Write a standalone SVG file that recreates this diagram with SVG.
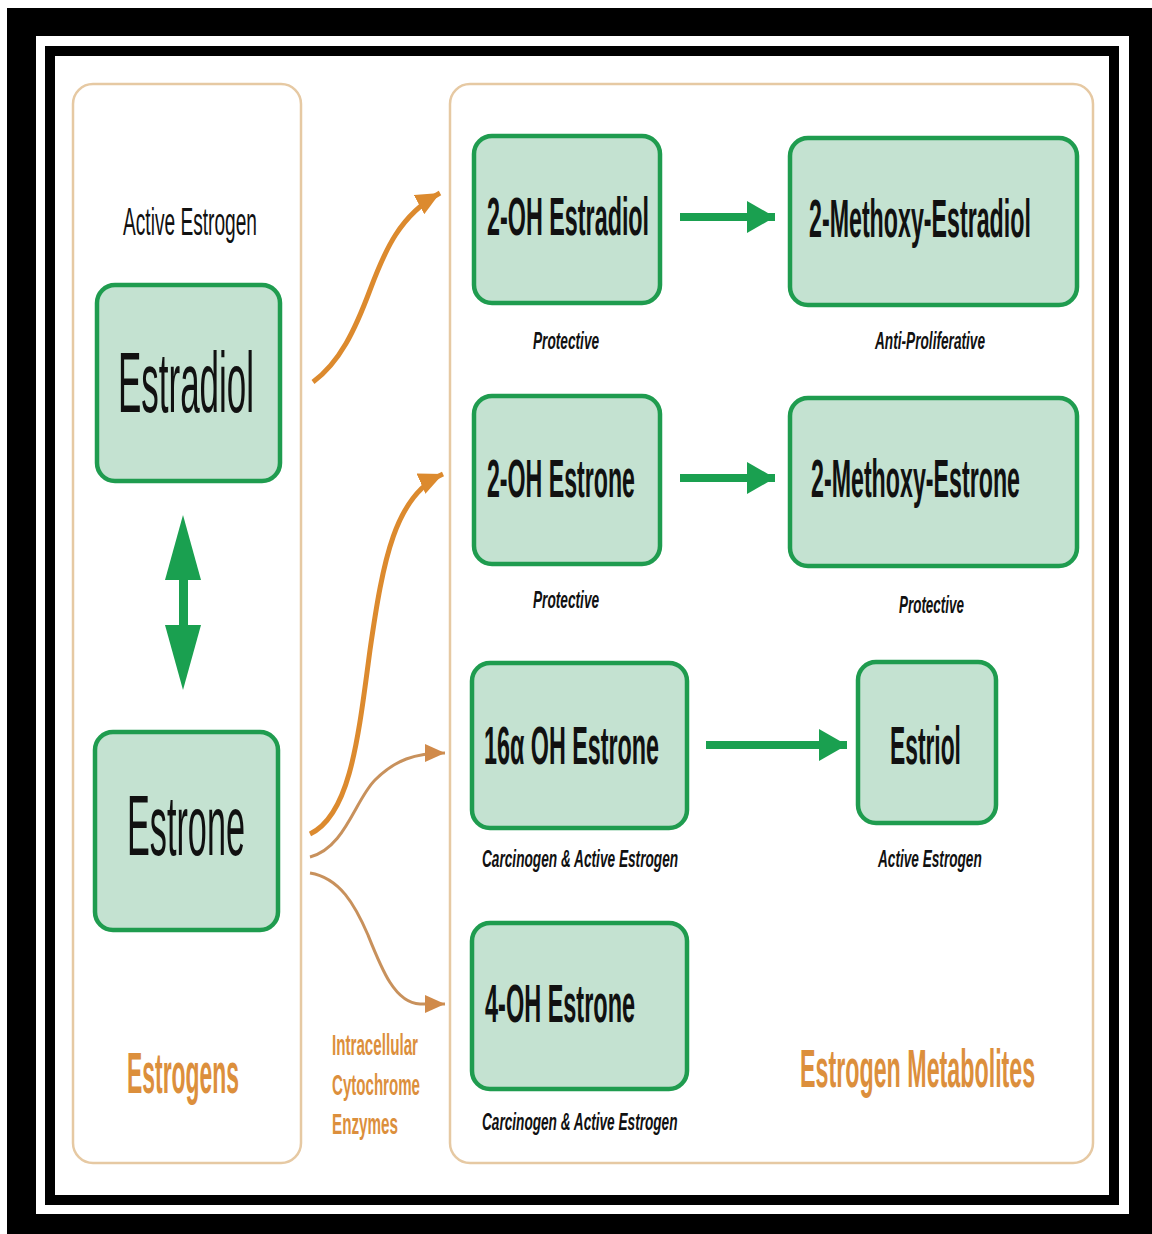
<svg xmlns="http://www.w3.org/2000/svg" width="1152" height="1234" viewBox="0 0 1152 1234">
<style>
  .panel{fill:#ffffff;stroke:#e6c9a3;stroke-width:2.5}
  .box{fill:#c4e2d1;stroke:#1f9c4f;stroke-width:4.5}
  .t{font-family:"Liberation Sans",Arial,sans-serif;fill:#111}
  .big{font-size:86px}
  .bx{font-size:54px;font-weight:bold}
  .lbl{font-size:24px;font-weight:bold;font-style:italic}
  .org{font-family:"Liberation Sans",Arial,sans-serif;fill:#dc8f3c;font-weight:bold}
  .oc{fill:none;stroke:#dc8a2e;stroke-width:5}
  .oc2{fill:none;stroke:#c8915c;stroke-width:3}
  .gl{stroke:#1aa050;stroke-width:8;fill:none}
</style>
<defs>
  <marker id="ahO" markerUnits="userSpaceOnUse" markerWidth="26" markerHeight="22" refX="24" refY="11" orient="auto">
    <path d="M0,0 L24,11 L0,22 Z" fill="#dc8a2e"/>
  </marker>
  <marker id="ahO2" markerUnits="userSpaceOnUse" markerWidth="22" markerHeight="18" refX="20" refY="9" orient="auto">
    <path d="M0,0 L20,9 L0,18 Z" fill="#d08a4a"/>
  </marker>
  <marker id="ahG" markerUnits="userSpaceOnUse" markerWidth="30" markerHeight="32" refX="28" refY="16" orient="auto">
    <path d="M0,0 L28,16 L0,32 Z" fill="#1aa050"/>
  </marker>
</defs>

<!-- frame -->
<rect x="0" y="0" width="1152" height="1234" fill="#ffffff"/>
<rect x="7" y="8" width="1145" height="1226" fill="#000000"/>
<rect x="36" y="36" width="1093" height="1178" fill="#ffffff"/>
<rect x="45" y="46" width="1074" height="1159" fill="#000000"/>
<rect x="55" y="56" width="1054" height="1139" fill="#ffffff"/>

<!-- panels -->
<g id="panel-estrogens">
  <rect class="panel" x="73" y="84" width="228" height="1079" rx="20"/>
  <text class="t" transform="translate(123,235) scale(0.5,1)" font-size="38" textLength="268" lengthAdjust="spacingAndGlyphs">Active Estrogen</text>
  <text class="org" transform="translate(127,1093) scale(0.4,1)" font-size="58" textLength="280" lengthAdjust="spacingAndGlyphs">Estrogens</text>
</g>
<g id="panel-metabolites">
  <rect class="panel" x="450" y="84" width="643" height="1079" rx="20"/>
  <text class="org" transform="translate(800,1087) scale(0.43,1)" font-size="54" textLength="547" lengthAdjust="spacingAndGlyphs">Estrogen Metabolites</text>
</g>
<g id="enzymes-label">
  <text class="org" transform="translate(332,1055) scale(0.5,1)" font-size="30" textLength="172" lengthAdjust="spacingAndGlyphs">Intracellular</text>
  <text class="org" transform="translate(332,1095) scale(0.5,1)" font-size="30" textLength="176" lengthAdjust="spacingAndGlyphs">Cytochrome</text>
  <text class="org" transform="translate(332,1134) scale(0.5,1)" font-size="30" textLength="132" lengthAdjust="spacingAndGlyphs">Enzymes</text>
</g>

<!-- nodes -->
<g id="estradiol">
  <rect class="box" x="97" y="285" width="183" height="196" rx="18"/>
  <text class="t big" transform="translate(118,412) scale(0.4,1)" textLength="340" lengthAdjust="spacingAndGlyphs">Estradiol</text>
</g>
<g id="estrone">
  <rect class="box" x="95" y="732" width="183" height="198" rx="18"/>
  <text class="t big" transform="translate(127,855) scale(0.4,1)" textLength="295" lengthAdjust="spacingAndGlyphs">Estrone</text>
</g>
<g id="oh2-estradiol">
  <rect class="box" x="474" y="136" width="186" height="167" rx="18"/>
  <text class="t bx" transform="translate(487,235) scale(0.43,1)" textLength="377" lengthAdjust="spacingAndGlyphs">2-OH Estradiol</text>
  <text class="t lbl" transform="translate(533,349) scale(0.57,1)" textLength="116" lengthAdjust="spacingAndGlyphs">Protective</text>
</g>
<g id="methoxy-estradiol">
  <rect class="box" x="790" y="138" width="287" height="167" rx="18"/>
  <text class="t bx" transform="translate(809,237) scale(0.43,1)" textLength="516" lengthAdjust="spacingAndGlyphs">2-Methoxy-Estradiol</text>
  <text class="t lbl" transform="translate(875,349) scale(0.57,1)" textLength="193" lengthAdjust="spacingAndGlyphs">Anti-Proliferative</text>
</g>
<g id="oh2-estrone">
  <rect class="box" x="474" y="396" width="186" height="168" rx="18"/>
  <text class="t bx" transform="translate(487,497) scale(0.43,1)" textLength="344" lengthAdjust="spacingAndGlyphs">2-OH Estrone</text>
  <text class="t lbl" transform="translate(533,608) scale(0.57,1)" textLength="116" lengthAdjust="spacingAndGlyphs">Protective</text>
</g>
<g id="methoxy-estrone">
  <rect class="box" x="790" y="398" width="287" height="168" rx="18"/>
  <text class="t bx" transform="translate(811,497) scale(0.43,1)" textLength="486" lengthAdjust="spacingAndGlyphs">2-Methoxy-Estrone</text>
  <text class="t lbl" transform="translate(899,613) scale(0.57,1)" textLength="114" lengthAdjust="spacingAndGlyphs">Protective</text>
</g>
<g id="oh16-estrone">
  <rect class="box" x="472" y="663" width="215" height="165" rx="18"/>
  <text class="t bx" transform="translate(484,764) scale(0.43,1)" textLength="407" lengthAdjust="spacingAndGlyphs">16α OH Estrone</text>
  <text class="t lbl" transform="translate(482,867) scale(0.57,1)" textLength="344" lengthAdjust="spacingAndGlyphs">Carcinogen &amp; Active Estrogen</text>
</g>
<g id="estriol">
  <rect class="box" x="858" y="662" width="138" height="161" rx="18"/>
  <text class="t bx" transform="translate(890,764) scale(0.43,1)" textLength="165" lengthAdjust="spacingAndGlyphs">Estriol</text>
  <text class="t lbl" transform="translate(878,867) scale(0.57,1)" textLength="182" lengthAdjust="spacingAndGlyphs">Active Estrogen</text>
</g>
<g id="oh4-estrone">
  <rect class="box" x="472" y="923" width="215" height="166" rx="18"/>
  <text class="t bx" transform="translate(485,1022) scale(0.43,1)" textLength="349" lengthAdjust="spacingAndGlyphs">4-OH Estrone</text>
  <text class="t lbl" transform="translate(482,1130) scale(0.57,1)" textLength="343" lengthAdjust="spacingAndGlyphs">Carcinogen &amp; Active Estrogen</text>
</g>

<!-- connectors -->
<g id="connectors">
  <g id="double-arrow" fill="#1aa050">
    <polygon points="183,515 165,580 201,580"/>
    <rect x="179" y="578" width="9" height="49"/>
    <polygon points="165,625 201,625 183,690"/>
  </g>
  <path class="oc" d="M313,382 C340,362 355,330 370,290 C385,250 400,215 440,193" marker-end="url(#ahO)"/>
  <path class="oc" d="M310,834 C350,815 358,740 370,650 C383,560 395,495 443,474" marker-end="url(#ahO)"/>
  <path class="oc2" d="M310,857 C345,848 355,800 375,780 C395,760 415,753 445,753" marker-end="url(#ahO2)"/>
  <path class="oc2" d="M310,873 C340,878 355,905 368,935 C382,970 395,1003 420,1004 L445,1004" marker-end="url(#ahO2)"/>
  <line class="gl" x1="680" y1="217" x2="775" y2="217" marker-end="url(#ahG)"/>
  <line class="gl" x1="680" y1="478" x2="775" y2="478" marker-end="url(#ahG)"/>
  <line class="gl" x1="706" y1="745" x2="847" y2="745" marker-end="url(#ahG)"/>
</g>
</svg>
